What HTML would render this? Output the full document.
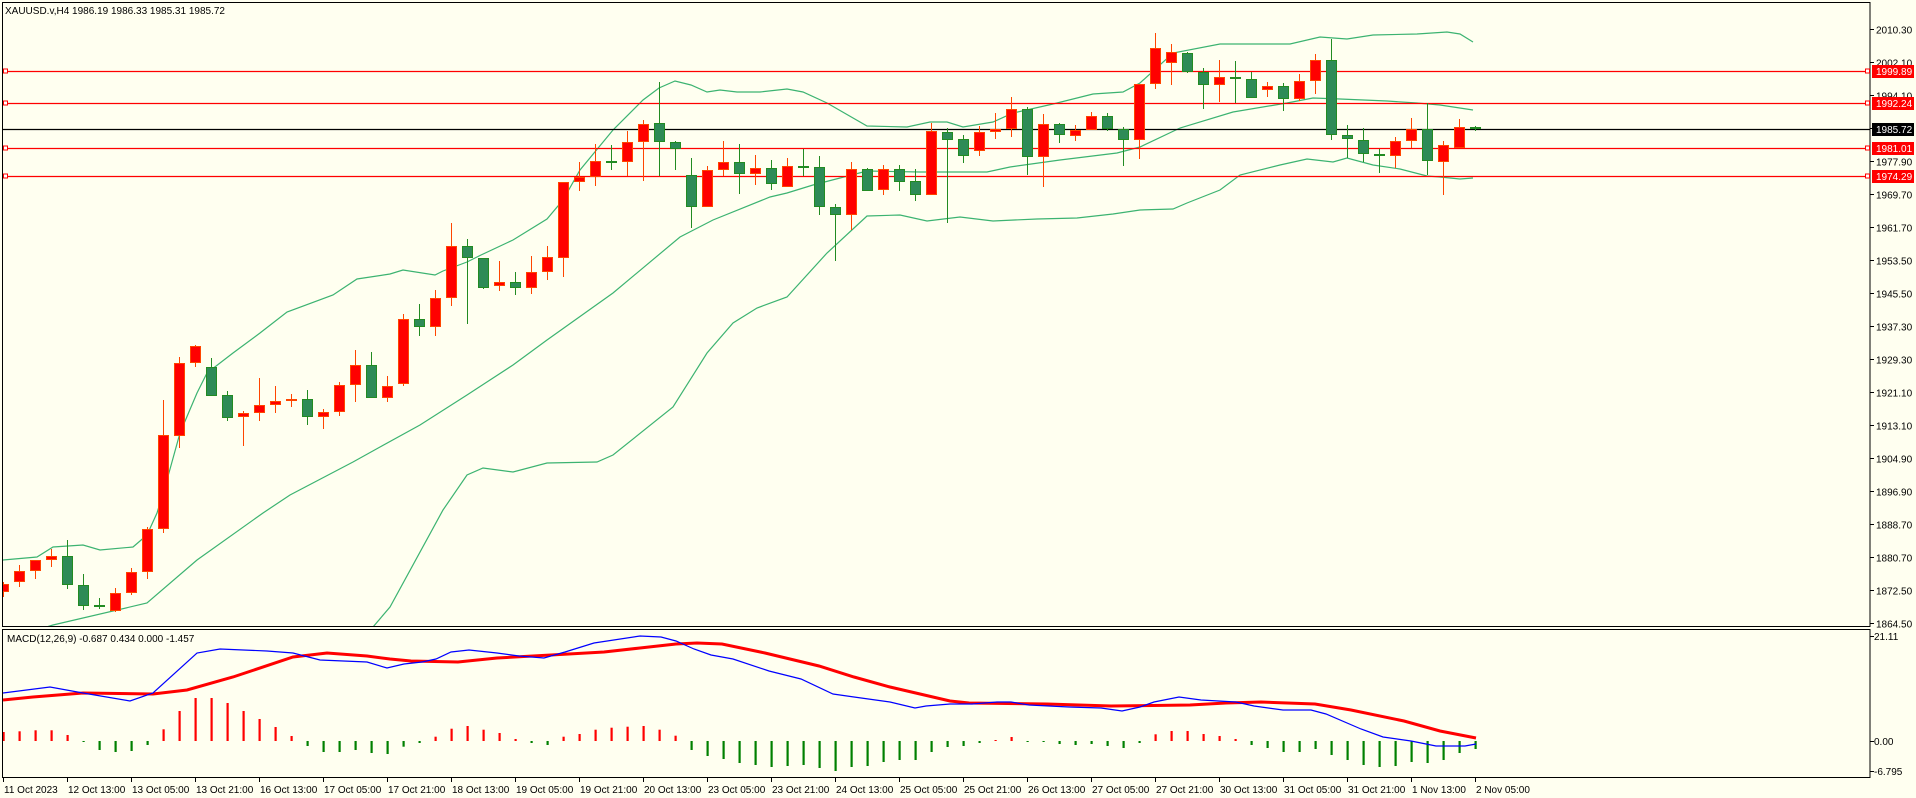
<!DOCTYPE html>
<html><head><meta charset="utf-8"><style>
html,body{margin:0;padding:0;background:#FFFFF0;}
svg{display:block;font-family:"Liberation Sans",sans-serif;font-size:10px;}
</style></head><body>
<svg id="s" width="1916" height="798" xmlns="http://www.w3.org/2000/svg">
<rect width="1916" height="798" fill="#FFFFF0"/>
<defs>
<clipPath id="cm"><rect x="3" y="3" width="1867" height="623"/></clipPath>
<clipPath id="cd"><rect x="3" y="630" width="1867" height="147"/></clipPath>
</defs>
<g id="main" clip-path="url(#cm)"></g>
<g id="macd" clip-path="url(#cd)"></g>
<g id="axes"></g>
</svg>
<script>
var NS="http://www.w3.org/2000/svg";
function el(p,t,a,txt){var e=document.createElementNS(NS,t);for(var k in a)e.setAttribute(k,a[k]);if(txt!=null)e.textContent=txt;p.appendChild(e);return e;}
var M=document.getElementById('main'),D=document.getElementById('macd'),A=document.getElementById('axes');
function py(p){return 29+(2010.3-p)*4.074;}
function pts(a){return a.map(function(p){return p[0]+','+p[1]}).join(' ');}
var up=[[3,560],[37,557],[53,547],[83,545],[100,550],[133,547],[147,535],[157,513],[167,480],[180,433],[197,393],[207,373],[233,353],[260,333],[287,312],[333,295],[357,279],[390,274],[403,270],[435,275],[443,271],[467,262],[481,255],[513,240],[547,219],[563,200],[580,170],[613,130],[643,100],[659,88],[675,81],[691,85],[707,92],[720,90],[737,92],[760,92],[787,89],[803,92],[827,103],[867,126],[907,127],[930,122],[947,122],[963,127],[993,122],[1013,113],[1053,104],[1093,94],[1123,92],[1140,83],[1173,53],[1220,44],[1290,44],[1320,37],[1347,39],[1373,35],[1417,34],[1447,32],[1460,34],[1473,42]];
var mid=[[3,640],[53,625],[147,603],[197,560],[263,513],[290,495],[353,462],[380,447],[420,425],[467,395],[513,365],[547,340],[613,293],[680,237],[713,220],[770,197],[787,193],[813,185],[867,171],[920,172],[987,172],[1010,167],[1060,160],[1117,153],[1140,147],[1180,128],[1233,112],[1287,103],[1313,98],[1340,99],[1387,101],[1417,103],[1440,105],[1473,110]];
var lo=[[366,640],[373,627],[390,607],[443,510],[467,475],[483,468],[513,472],[547,463],[597,462],[613,455],[673,407],[707,353],[733,323],[757,308],[787,297],[827,253],[867,216],[900,215],[927,221],[960,217],[993,221],[1037,219],[1077,218],[1113,214],[1140,210],[1173,209],[1187,203],[1220,190],[1240,175],[1280,165],[1307,159],[1333,162],[1347,158],[1373,165],[1400,169],[1427,176],[1440,177],[1460,179],[1473,178]];
[up,mid,lo].forEach(function(b){el(M,'polyline',{points:pts(b),fill:'none',stroke:'#3CB371','stroke-width':1.2});});
[1999.89,1992.24,1981.01,1974.29].forEach(function(v){var y=Math.round(py(v))+0.5;el(M,'line',{x1:3,x2:1870,y1:y,y2:y,stroke:'#FF0000','stroke-width':1.3});});
el(M,'line',{x1:3,x2:1870,y1:129.5,y2:129.5,stroke:'#000','stroke-width':1.3});
var C=[[584,592,582,597,'r'],[571,582,565,587,'r'],[560,571,560,579,'r'],[556,560,549,567,'r'],[556,585,540,589,'g'],[585,606,574,610,'g'],[605,607,598,609,'g'],[593,611,588,612,'r'],[572,593,568,595,'r'],[529,572,527,579,'r'],[435,529,400,533,'r'],[363,436,357,448,'r'],[346,363,345,367,'r'],[367,396,358,396,'g'],[395,418,391,421,'g'],[413,417,411,446,'r'],[405,413,378,421,'r'],[401,405,386,413,'r'],[399,401,394,407,'r'],[399,417,390,425,'g'],[412,417,409,429,'r'],[385,412,382,416,'r'],[365,385,350,402,'r'],[365,398,352,398,'g'],[386,398,376,402,'r'],
[319,384,314,386,'r'],[319,327,304,336,'g'],[298,327,290,336,'r'],[246,298,223,306,'r'],[246,258,239,324,'g'],[258,288,258,289,'g'],[282,286,261,291,'r'],[282,288,272,295,'g'],[272,288,256,294,'r'],[257,272,246,280,'r'],[182,258,182,277,'r'],[177,182,162,191,'r'],[161,177,144,186,'r'],[161,162,145,170,'g'],[142,162,131,176,'r'],[124,142,120,181,'r'],[123,142,82,176,'g'],[142,149,141,170,'g'],[175,207,158,228,'g'],[170,207,166,207,'r'],[162,170,141,176,'r'],[162,174,144,194,'g'],[168,174,155,185,'r'],[168,184,160,190,'g'],
[166,187,158,187,'r'],[166,167,149,176,'g'],[167,207,156,215,'g'],[207,215,204,261,'g'],[169,215,162,230,'r'],[169,191,168,191,'g'],[169,190,165,195,'r'],[169,182,165,191,'g'],[181,195,169,201,'g'],[131,195,123,195,'r'],[132,140,128,223,'g'],[139,156,135,163,'g'],[132,151,126,156,'r'],[129,132,113,139,'r'],[109,129,97,137,'r'],[109,157,107,175,'g'],[124,157,114,187,'r'],[124,135,123,143,'g'],[130,136,125,141,'r'],[116,130,112,130,'r'],[116,129,113,131,'g'],[129,140,127,166,'g'],[84,140,84,159,'r'],
[48,84,33,89,'r'],[52,63,44,85,'r'],[53,72,52,73,'g'],[72,85,68,109,'g'],[77,85,60,102,'r'],[77,79,61,103,'g'],[79,98,72,98,'g'],[86,90,82,97,'r'],[86,99,83,111,'g'],[81,99,74,101,'r'],[60,81,54,94,'r'],[60,135,39,140,'g'],[135,139,125,158,'g'],[140,154,128,162,'g'],[154,156,149,173,'g'],[141,156,137,168,'r'],[129,141,118,148,'r'],[129,161,103,175,'g'],[145,162,141,195,'r'],[127,148,119,148,'r'],[127,129,126,131,'g']];
C.forEach(function(c,i){var x=3+16*i,r=c[4]=='r';var bc=r?'#FF4500':'#228B22',f=r?'#FF0000':'#2E8B57';
el(M,'line',{x1:x+0.5,x2:x+0.5,y1:c[2],y2:c[3],stroke:bc,'stroke-width':1});
var h=Math.max(c[1]-c[0],2);el(M,'rect',{x:x-4.5,y:c[0]+0.5,width:10,height:h-1,fill:f,stroke:bc,'stroke-width':1});});
var H=[9,9.7,10.7,10.7,6,-1,-9,-11,-10,-4,11.7,30,43,43,38,30,22,14,5,-5,-11,-11,-9,-12,-13,-5.7,-2,4.3,12.3,15,11.3,8,2,-2,-4,4.3,7,11.3,13.3,14.3,15,11.3,5.3,-9,-15,-18,-22,-24,-26,-25,-24,-27,-30,-26,-25,-21,-19,-19,-11,-6,-5,-2,1,4,-1,-1,-3,-4,-3,-5,-7,-2,6.7,10,10,7,5,2,-4,-7,-11,-11,-8,-14,-19,-24,-26,-25,-21,-22,-19,-12,-8];
H.forEach(function(v,i){var x=3+16*i;if(v>=0)el(D,'rect',{x:x-0.5,y:741-v,width:2.2,height:v,fill:'#FF0000'});else el(D,'rect',{x:x-0.5,y:741,width:2.2,height:-v,fill:'#008000'});});
var bl=[[3,693],[50,687],[83,693],[130,701],[153,693],[197,653],[220,649],[267,651],[293,653],[320,660],[367,662],[387,668],[404,664],[422,662],[436,659],[451,652],[469,650],[497,653],[519,656],[544,658],[565,652],[594,643],[640,636],[661,637],[676,641],[694,649],[711,655],[733,659],[769,671],[801,679],[833,694],[854,697],[890,702],[915,708],[926,706],[950,704],[972,704],[997,702],[1011,702],[1029,705],[1069,707],[1101,708],[1122,711],[1140,707],[1154,702],[1179,697],[1201,700],[1236,702],[1254,706],[1283,710],[1311,710],[1326,714],[1361,729],[1383,737],[1411,741],[1436,746],[1465,746],[1476,744]];
var rd=[[3,700],[33,697],[83,693],[153,694],[187,690],[233,677],[293,657],[327,653],[367,656],[390,659],[411,661],[458,662],[497,658],[551,655],[604,652],[640,648],[676,644],[697,643],[722,644],[765,653],[819,666],[854,677],[890,687],[950,701],[969,703],[1047,704],[1111,706],[1190,705],[1226,703],[1261,702],[1315,704],[1351,710],[1404,721],[1440,731],[1476,738]];
el(D,'polyline',{points:pts(rd),fill:'none',stroke:'#FF0000','stroke-width':3});
el(D,'polyline',{points:pts(bl),fill:'none',stroke:'#0000FF','stroke-width':1.2});
el(D,'text',{x:7,y:642,fill:'#000'},'MACD(12,26,9) -0.687 0.434 0.000 -1.457');
el(A,'rect',{x:2.5,y:2.5,width:1867.5,height:624,fill:'none',stroke:'#000','stroke-width':1});
el(A,'rect',{x:2.5,y:629.5,width:1867.5,height:148,fill:'none',stroke:'#000','stroke-width':1});
el(A,'text',{x:5,y:14,fill:'#000'},'XAUUSD.v,H4  1986.19 1986.33 1985.31 1985.72');
['2010.30','2002.10','1994.10','1985.90','1977.90','1969.70','1961.70','1953.50','1945.50','1937.30','1929.30','1921.10','1913.10','1904.90','1896.90','1888.70','1880.70','1872.50','1864.50'].forEach(function(s){var y=Math.round(py(+s))+0.5;el(A,'line',{x1:1870,x2:1874,y1:y,y2:y,stroke:'#000'});el(A,'text',{x:1876,y:y+4,fill:'#000'},s);});
function box(v,bg,lab){var y=Math.round(py(v));el(A,'rect',{x:1872,y:y-6,width:42,height:13,fill:bg});el(A,'text',{x:1876,y:y+4,fill:'#fff'},lab);}
[[1999.89,'1999.89'],[1992.24,'1992.24'],[1981.01,'1981.01'],[1974.29,'1974.29']].forEach(function(b){box(b[0],'#FF0000',b[1]);var y=Math.round(py(b[0]));
el(A,'rect',{x:1865.5,y:y-2,width:4,height:4,fill:'#fff',stroke:'#FF0000'});el(A,'rect',{x:3.5,y:y-2,width:4,height:4,fill:'#fff',stroke:'#FF0000'});});
box(1985.72,'#000','1985.72');
[[636,'21.11'],[741,'0.00'],[771,'-6.795']].forEach(function(t){el(A,'line',{x1:1870,x2:1874,y1:t[0]+0.5,y2:t[0]+0.5,stroke:'#000'});el(A,'text',{x:1874,y:t[0]+4,fill:'#000'},t[1]);});
['11 Oct 2023','12 Oct 13:00','13 Oct 05:00','13 Oct 21:00','16 Oct 13:00','17 Oct 05:00','17 Oct 21:00','18 Oct 13:00','19 Oct 05:00','19 Oct 21:00','20 Oct 13:00','23 Oct 05:00','23 Oct 21:00','24 Oct 13:00','25 Oct 05:00','25 Oct 21:00','26 Oct 13:00','27 Oct 05:00','27 Oct 21:00','30 Oct 13:00','31 Oct 05:00','31 Oct 21:00','1 Nov 13:00','2 Nov 05:00'].forEach(function(s,k){var x=3+64*k+0.5;el(A,'line',{x1:x,x2:x,y1:778,y2:782,stroke:'#000'});el(A,'text',{x:x+0.5,y:793,fill:'#000'},s);});
</script>
</body></html>
